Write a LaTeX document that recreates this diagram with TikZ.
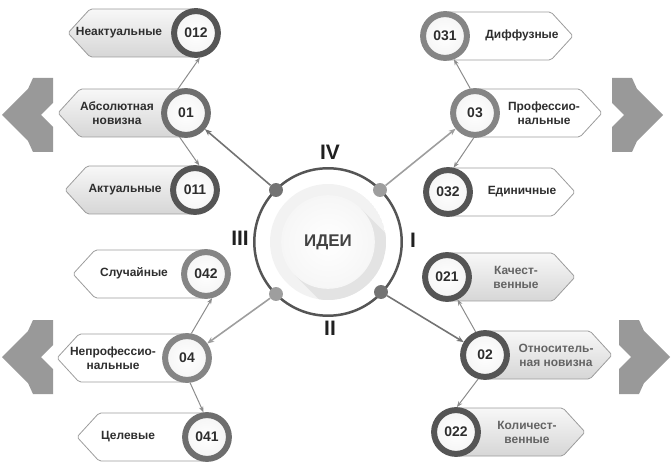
\documentclass[tikz,border=0pt]{standalone}
\usepackage{fontspec}
\setmainfont{Liberation Sans}
\usetikzlibrary{arrows.meta}
\definecolor{chevc}{HTML}{999999}
\definecolor{boxline}{HTML}{9C9C9C}
\definecolor{ringdark}{HTML}{555555}
\definecolor{ringmid}{HTML}{858585}
\definecolor{ringmd}{HTML}{6E6E6E}
\definecolor{arrc}{HTML}{8C8C8C}
\definecolor{arrdark}{HTML}{737373}
\definecolor{arrlight}{HTML}{9E9E9E}
\definecolor{txt}{HTML}{2E2E2E}
\definecolor{txtlight}{HTML}{636363}
\definecolor{romc}{HTML}{202020}
\newcommand\leftbox[4]{\path[#4] (#1,#2-24) -- (#3+22,#2-24) -- (#3,#2) -- (#3+22,#2+24) -- (#1,#2+24) -- cycle;}
\newcommand\rightbox[4]{\path[#4] (#1,#2-24) -- (#3-22,#2-24) -- (#3,#2) -- (#3-22,#2+24) -- (#1,#2+24) -- cycle;}
\newcommand\chevshape{(0,0) -- (26,-26) -- (31,-37) -- (51,-37) -- (51,-12) -- (39,0) -- (51,12) -- (51,37) -- (31,37) -- (26,26) -- cycle}
\begin{document}
\begin{tikzpicture}[x=1bp,y=-1bp,
  lbox/.style={draw=boxline, line width=0.8pt, rounded corners=2pt},
  gbox/.style={lbox, top color=gray!6, bottom color=gray!32},
  wbox/.style={lbox, fill=white},
  ring/.style={circle, minimum size=44pt, line width=6pt, draw=#1, inner sep=0pt,
    inner color=white, outer color=gray!8, text=txt, font=\fontsize{14}{16}\selectfont\bfseries},
  lbl/.style={align=center, text=txt, font=\fontsize{12}{14}\selectfont\bfseries},
  lbll/.style={lbl, text=txtlight},
  arr/.style={-{Stealth[length=6pt,width=4.5pt]}, line width=1pt, draw=arrc},
  carr/.style={-{Stealth[length=7pt,width=5.5pt]}, line width=1.6pt, draw=#1},
  dot/.style={circle, fill=#1, minimum size=14pt, inner sep=0pt},
  rom/.style={text=romc, font=\fontsize{21}{23}\selectfont\bfseries},
  chev/.style={fill=chevc}
]
\useasboundingbox (0,0) rectangle (672,475);

% chevrons
\path[chev, shift={(2,115)}] \chevshape;
\path[chev, shift={(2,357)}] \chevshape;
\path[chev, shift={(663,115)}, xscale=-1] \chevshape;
\path[chev, shift={(670,357)}, xscale=-1] \chevshape;

% centre
\node[circle, draw=ringdark, line width=2.5pt, minimum size=148pt, inner sep=0pt] (outer) at (328,242) {};
\begin{scope}
  \clip (328,242) circle (58);
  \fill[gray!10] (328,242) circle (58);
  \fill[gray!22] (361.2,208.8) -- (294.8,275.2) -- (394.8,375.2) -- (461.2,308.8) -- cycle;
\end{scope}
\node[circle, minimum size=94pt, inner sep=0pt, inner color=white, outer color=gray!7,
  text=txt!90, font=\fontsize{17}{19}\selectfont\bfseries] (c) at (328,242) {ИДЕИ};

\node[dot=arrdark] (dUL) at (276,190) {};
\node[dot=arrlight] (dUR) at (380,190) {};
\node[dot=arrlight] (dLL) at (276,294) {};
\node[dot=arrdark] (dLR) at (381,292) {};

\node[rom] (rIV) at (330,152) {IV};
\node[rom] (rI) at (413,240) {I};
\node[rom] (rII) at (330,328) {II};
\node[rom] (rIII) at (240,238) {III};

% left top group
\leftbox{196}{33}{68}{gbox}
\leftbox{186}{113}{58}{gbox}
\leftbox{195}{190}{65}{gbox}
\node[ring=ringdark] (n012) at (196,33) {012};
\node[ring=ringmd] (n01) at (186,113) {01};
\node[ring=ringdark] (n011) at (195,190) {011};
\node[lbl] (t012) at (119,33) {Неактуальные};
\node[lbl] (t01) at (117,113) {Абсолютная\\новизна};
\node[lbl] (t011) at (125,190) {Актуальные};

% right top group
\rightbox{445}{36}{573}{wbox}
\rightbox{475}{113}{602}{wbox}
\rightbox{448}{192}{575}{wbox}
\node[ring=ringmid] (n031) at (445,36) {031};
\node[ring=ringmid] (n03) at (475,113) {03};
\node[ring=ringdark] (n032) at (448,192) {032};
\node[lbl] (t031) at (522,35) {Диффузные};
\node[lbl] (t03) at (544,113) {Профессио-\\нальные};
\node[lbl] (t032) at (522,192) {Единичные};

% right bottom group
\rightbox{447}{277}{575}{gbox}
\rightbox{485}{355}{612}{gbox}
\rightbox{456}{432}{585}{gbox}
\node[ring=ringdark] (n021) at (447,277) {021};
\node[ring=ringdark] (n02) at (485,355) {02};
\node[ring=ringdark] (n022) at (456,432) {022};
\node[lbll] (t021) at (516,277) {Качест-\\венные};
\node[lbll] (t02) at (556,355) {Относитель-\\ная новизна};
\node[lbll] (t022) at (527,432) {Количест-\\венные};

% left bottom group
\leftbox{206}{274}{73}{wbox}
\leftbox{187}{358}{57}{wbox}
\leftbox{207}{437}{77}{wbox}
\node[ring=ringmid] (n042) at (206,274) {042};
\node[ring=ringmid] (n04) at (187,358) {04};
\node[ring=ringmd] (n041) at (207,437) {041};
\node[lbl] (t042) at (134,273) {Случайные};
\node[lbl] (t04) at (113,358) {Непрофессио-\\нальные};
\node[lbl] (t041) at (128,437) {Целевые};

% connectors
\draw[carr=arrdark] (dUL) -- (n01);
\draw[carr=arrlight] (dUR) -- (n03);
\draw[carr=arrdark] (dLR) -- (n02);
\draw[carr=arrlight] (dLL) -- (n04);

\draw[arr] (n01.110) -- (n012.-81);
\draw[arr] (n01.-105) -- (n011.80);
\draw[arr] (n03.101) -- (n031.-69);
\draw[arr] (n03.-93) -- (n032.77);
\draw[arr] (n02.112) -- (n021.-65);
\draw[arr] (n02.-106) -- (n022.88);
\draw[arr] (n04.80) -- (n042.-76);
\draw[arr] (n04.-83) -- (n041.98);
\end{tikzpicture}
\end{document}
